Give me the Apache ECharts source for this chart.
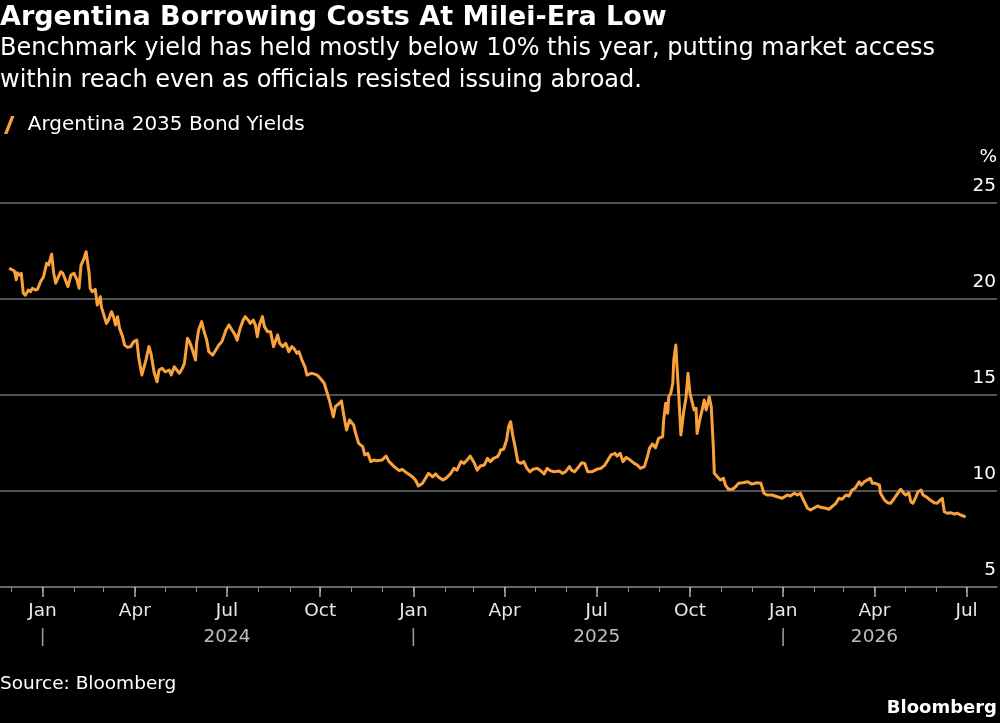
<!DOCTYPE html>
<html>
<head>
<meta charset="utf-8">
<script src="https://cdn.jsdelivr.net/npm/echarts@6/dist/echarts.min.js"></script>
<style>
html,body{margin:0;padding:0;background:#000;}
#chart{width:1000px;height:723px;}
</style>
</head>
<body>
<div id="chart"></div>
<script>
const titleText = 'Argentina Borrowing Costs At Milei-Era Low';
const subtitleText = 'Benchmark yield has held mostly below 10% this year, putting market access\nwithin reach even as officials resisted issuing abroad.';
const seriesName = 'Argentina 2035 Bond Yields';
const sourceText = 'Source: Bloomberg';
const brandText = 'Bloomberg';
const yTicks = [5, 10, 15, 20, 25];
const monthNames = ['Jan','Feb','Mar','Apr','May','Jun','Jul','Aug','Sep','Oct','Nov','Dec'];

const dates = [
'2023-11-29','2023-12-04','2023-12-05','2023-12-06','2023-12-07','2023-12-09','2023-12-11','2023-12-13','2023-12-15','2023-12-18',
'2023-12-20','2023-12-22','2023-12-25','2023-12-27','2023-12-30','2024-01-02','2024-01-05','2024-01-07','2024-01-10','2024-01-12',
'2024-01-14','2024-01-16','2024-01-19','2024-01-21','2024-01-23','2024-01-26','2024-01-29','2024-02-01','2024-02-04','2024-02-06',
'2024-02-08','2024-02-11','2024-02-13','2024-02-16','2024-02-17','2024-02-19','2024-02-22','2024-02-24','2024-02-27','2024-02-28',
'2024-03-02','2024-03-04','2024-03-06','2024-03-09','2024-03-11','2024-03-13','2024-03-15','2024-03-17','2024-03-20','2024-03-22',
'2024-03-25','2024-03-28','2024-03-31','2024-04-03','2024-04-05','2024-04-08','2024-04-12','2024-04-15','2024-04-17','2024-04-20',
'2024-04-23','2024-04-25','2024-04-28','2024-05-01','2024-05-05','2024-05-07','2024-05-10','2024-05-15','2024-05-18','2024-05-20',
'2024-05-23','2024-05-25','2024-05-28','2024-05-31','2024-06-01','2024-06-03','2024-06-06','2024-06-08','2024-06-11','2024-06-13',
'2024-06-17','2024-06-20','2024-06-23','2024-06-26','2024-06-30','2024-07-03','2024-07-06','2024-07-09','2024-07-11','2024-07-14',
'2024-07-17','2024-07-19','2024-07-22','2024-07-24','2024-07-27','2024-07-29','2024-07-31','2024-08-02','2024-08-05','2024-08-07',
'2024-08-10','2024-08-13','2024-08-16','2024-08-20','2024-08-22','2024-08-25','2024-08-28','2024-08-31','2024-09-03','2024-09-05',
'2024-09-08','2024-09-10','2024-09-13','2024-09-16','2024-09-18','2024-09-22','2024-09-25','2024-09-28','2024-10-01','2024-10-05',
'2024-10-07','2024-10-10','2024-10-12','2024-10-14','2024-10-16','2024-10-20','2024-10-22','2024-10-24','2024-10-27','2024-10-30',
'2024-11-03','2024-11-05','2024-11-08','2024-11-12','2024-11-14','2024-11-17','2024-11-20','2024-11-23','2024-11-26','2024-12-01',
'2024-12-05','2024-12-08','2024-12-13','2024-12-18','2024-12-21','2024-12-26','2024-12-31','2025-01-03','2025-01-06','2025-01-10',
'2025-01-13','2025-01-16','2025-01-20','2025-01-23','2025-01-26','2025-01-30','2025-02-02','2025-02-07','2025-02-10','2025-02-13',
'2025-02-17','2025-02-20','2025-02-23','2025-02-26','2025-03-02','2025-03-05','2025-03-08','2025-03-12','2025-03-15','2025-03-18',
'2025-03-21','2025-03-25','2025-03-27','2025-03-28','2025-03-31','2025-04-03','2025-04-05','2025-04-07','2025-04-09','2025-04-10',
'2025-04-12','2025-04-14','2025-04-17','2025-04-20','2025-04-23','2025-04-26','2025-04-29','2025-05-03','2025-05-07','2025-05-10',
'2025-05-13','2025-05-16','2025-05-20','2025-05-25','2025-05-28','2025-05-31','2025-06-04','2025-06-06','2025-06-09','2025-06-12',
'2025-06-16','2025-06-19','2025-06-22','2025-06-26','2025-07-01','2025-07-05','2025-07-09','2025-07-12','2025-07-15','2025-07-19',
'2025-07-21','2025-07-24','2025-07-27','2025-07-30','2025-08-03','2025-08-07','2025-08-10','2025-08-13','2025-08-17','2025-08-20',
'2025-08-22','2025-08-25','2025-08-28','2025-08-31','2025-09-04','2025-09-05','2025-09-07','2025-09-09','2025-09-10','2025-09-12',
'2025-09-14','2025-09-15','2025-09-17','2025-09-18','2025-09-20','2025-09-22','2025-09-25','2025-09-27','2025-09-29','2025-10-01',
'2025-10-03','2025-10-05','2025-10-07','2025-10-08','2025-10-11','2025-10-13','2025-10-15','2025-10-17','2025-10-20','2025-10-22',
'2025-10-24','2025-10-25','2025-10-28','2025-10-31','2025-11-03','2025-11-05','2025-11-08','2025-11-12','2025-11-15','2025-11-18',
'2025-11-22','2025-11-27','2025-12-01','2025-12-06','2025-12-10','2025-12-13','2025-12-16','2025-12-21','2025-12-26','2025-12-31',
'2026-01-05','2026-01-08','2026-01-12','2026-01-15','2026-01-18','2026-01-21','2026-01-25','2026-01-28','2026-01-31','2026-02-04',
'2026-02-07','2026-02-12','2026-02-15','2026-02-18','2026-02-22','2026-02-25','2026-02-28','2026-03-04','2026-03-07','2026-03-10',
'2026-03-13','2026-03-17','2026-03-19','2026-03-22','2026-03-25','2026-03-28','2026-03-30','2026-04-02','2026-04-06','2026-04-07',
'2026-04-11','2026-04-14','2026-04-17','2026-04-20','2026-04-24','2026-04-27','2026-04-30','2026-05-02','2026-05-05','2026-05-07',
'2026-05-09','2026-05-12','2026-05-14','2026-05-17','2026-05-19','2026-05-23','2026-05-26','2026-05-30','2026-06-02','2026-06-05',
'2026-06-07','2026-06-09','2026-06-12','2026-06-15','2026-06-19','2026-06-22','2026-06-25','2026-06-28','2026-06-30'
];

const yields = [
21.6,21.47,21.29,21.0,21.37,21.25,21.34,20.3,20.2,20.47,
20.38,20.56,20.47,20.5,20.9,21.16,21.86,21.77,22.34,21.34,
20.82,21.08,21.42,21.34,21.08,20.64,21.25,21.34,21.0,20.56,
21.77,22.12,22.46,21.34,20.56,20.38,20.5,19.69,20.12,19.6,
19.08,18.73,18.9,19.34,19.08,18.65,19.08,18.47,18.04,17.6,
17.48,17.52,17.78,17.86,16.91,16.04,16.82,17.52,17.17,16.21,
15.69,16.3,16.39,16.21,16.3,16.04,16.47,16.13,16.39,16.65,
17.95,17.78,17.34,16.82,17.69,18.39,18.82,18.39,17.86,17.26,
17.08,17.34,17.6,17.78,18.39,18.65,18.39,18.13,17.86,18.47,
18.9,19.08,18.9,18.73,18.9,18.65,18.04,18.65,19.08,18.56,
18.3,18.3,17.52,18.13,17.69,17.52,17.69,17.26,17.52,17.43,
17.17,17.26,16.82,16.47,16.04,16.13,16.1,16.04,15.87,15.61,
15.26,14.74,14.31,13.87,14.39,14.57,14.69,14.05,13.18,13.7,
13.44,13.0,12.48,12.31,11.88,11.96,11.53,11.61,11.58,11.61,
11.82,11.53,11.27,11.06,11.13,10.92,10.74,10.57,10.26,10.4,
10.66,10.92,10.74,10.89,10.71,10.57,10.66,10.92,11.18,11.09,
11.53,11.44,11.61,11.82,11.47,11.09,11.3,11.35,11.7,11.53,
11.7,11.79,11.96,12.14,12.17,12.66,13.35,13.61,12.92,12.83,
12.14,11.53,11.44,11.53,11.18,11.0,11.13,11.18,11.04,10.89,
11.18,11.06,11.0,11.04,10.92,11.0,11.27,11.09,11.0,11.18,
11.47,11.44,11.0,11.0,11.13,11.18,11.35,11.61,11.88,11.96,
11.82,11.96,11.53,11.75,11.61,11.44,11.35,11.18,11.27,11.79,
12.22,12.45,12.25,12.74,12.83,13.7,14.57,14.05,14.91,15.09,
15.61,16.82,17.6,16.65,14.91,12.92,14.22,14.83,16.13,15.09,
14.65,14.22,14.31,13.0,13.79,14.22,14.74,14.22,14.91,14.39,
12.31,10.92,10.74,10.57,10.66,10.31,10.09,10.09,10.22,10.4,
10.43,10.48,10.36,10.43,10.4,9.88,9.79,9.79,9.7,9.62,
9.79,9.74,9.88,9.79,9.88,9.53,9.1,9.01,9.1,9.22,
9.15,9.1,9.05,9.18,9.36,9.62,9.57,9.79,9.74,10.05,
10.14,10.48,10.31,10.48,10.57,10.66,10.4,10.4,10.31,9.88,
9.53,9.39,9.36,9.57,9.88,10.09,9.88,9.79,9.91,9.44,
9.36,9.7,9.96,10.05,9.79,9.67,9.53,9.39,9.36,9.53,
9.62,8.92,8.84,8.87,8.8,8.84,8.75,8.7,8.63
];

const axisStart = '2023-11-20';
const axisEnd = '2026-07-31';
const monthTickDates = [
'2023-12-01','2024-01-01','2024-02-01','2024-03-01','2024-04-01','2024-05-01','2024-06-01','2024-07-01','2024-08-01','2024-09-01','2024-10-01','2024-11-01','2024-12-01',
'2025-01-01','2025-02-01','2025-03-01','2025-04-01','2025-05-01','2025-06-01','2025-07-01','2025-08-01','2025-09-01','2025-10-01','2025-11-01','2025-12-01',
'2026-01-01','2026-02-01','2026-03-01','2026-04-01','2026-05-01','2026-06-01','2026-07-01'
];
const quarterTickDates = [
'2024-01-01','2024-04-01','2024-07-01','2024-10-01',
'2025-01-01','2025-04-01','2025-07-01','2025-10-01',
'2026-01-01','2026-04-01','2026-07-01'
];
const yearStartDates = ['2024-01-01','2025-01-01','2026-01-01'];
const yearLabelDates = ['2024-07-01','2025-07-01','2026-04-01'];

function ts(s){ const p = s.split('-').map(Number); return Date.UTC(p[0], p[1]-1, p[2]); }

const FONT = 'DejaVu Sans';
const data = dates.map((d, i) => [ts(d), yields[i]]);
const yearStartTs = yearStartDates.map(ts);
const yearLabelTs = yearLabelDates.map(ts);

const chart = echarts.init(document.getElementById('chart'), null, {renderer: 'canvas'});
chart.setOption({
  backgroundColor: '#000000',
  animation: false,
  textStyle: {fontFamily: FONT},
  title: [
    {
      text: titleText, subtext: subtitleText, left: 0, top: 2, padding: 0, itemGap: 0,
      textStyle: {color: '#ffffff', fontSize: 27, fontWeight: 'bold', fontFamily: FONT, lineHeight: 31},
      subtextStyle: {color: '#ffffff', fontSize: 24, fontFamily: FONT, lineHeight: 32}
    },
    {
      text: sourceText, left: 0, top: 675, padding: 0,
      textStyle: {color: '#ffffff', fontSize: 18.5, fontWeight: 'normal', fontFamily: FONT}
    },
    {
      text: brandText, right: 3, top: 699, padding: 0,
      textStyle: {color: '#ffffff', fontSize: 18, fontWeight: 'bold', fontFamily: FONT}
    }
  ],
  legend: {
    left: 4, top: 115, padding: 0,
    itemWidth: 11, itemHeight: 18,
    icon: 'path://M0,18 L7,0 L10.5,0 L3.5,18 Z',
    textStyle: {color: '#ffffff', fontSize: 20, fontFamily: FONT, padding: [0,0,0,8]},
    data: [seriesName]
  },
  grid: {left: 0, right: 3, top: 203, bottom: 136, containLabel: false},
  xAxis: [
    {
      type: 'value', min: ts(axisStart), max: ts(axisEnd),
      axisLine: {show: true, lineStyle: {color: '#707070', width: 1.5}},
      axisTick: {show: true, length: 5, lineStyle: {color: '#8a8a8a', width: 1}, customValues: monthTickDates.map(ts)},
      axisLabel: {show: false},
      splitLine: {show: false}
    },
    {
      type: 'value', min: ts(axisStart), max: ts(axisEnd), position: 'bottom',
      axisLine: {show: false},
      axisTick: {show: true, length: 10, lineStyle: {color: '#b0b0b0', width: 1.5}, customValues: quarterTickDates.map(ts)},
      axisLabel: {
        show: true, margin: 11, customValues: quarterTickDates.map(ts),
        formatter: function (v) {
          const d = new Date(v);
          const m = d.getUTCMonth();
          let second = '{y| }';
          if (yearStartTs.indexOf(v) >= 0) second = '{p||}';
          else if (yearLabelTs.indexOf(v) >= 0) second = '{y|' + d.getUTCFullYear() + '}';
          return '{m|' + monthNames[m] + '}\n' + second;
        },
        rich: {
          m: {color: '#e8e8e8', fontSize: 18.5, fontFamily: FONT, lineHeight: 26},
          y: {color: '#bdbdbd', fontSize: 18.5, fontFamily: FONT, lineHeight: 26},
          p: {color: '#9a9a9a', fontSize: 18.5, fontFamily: FONT, lineHeight: 26}
        }
      },
      splitLine: {show: false}
    }
  ],
  yAxis: {
    type: 'value', position: 'right', min: 5, max: 25, interval: 5,
    name: '%', nameLocation: 'end', nameGap: 36,
    nameTextStyle: {color: '#ffffff', fontSize: 18.5, fontFamily: FONT, align: 'right', verticalAlign: 'bottom'},
    axisLine: {show: false}, axisTick: {show: false},
    axisLabel: {
      inside: true, margin: 1, color: '#ffffff', fontSize: 18.5, fontFamily: FONT,
      verticalAlign: 'bottom', padding: [0, 0, 7, 0]
    },
    splitLine: {show: true, lineStyle: {color: '#6e6e6e', width: 1.5}}
  },
  series: [{
    name: seriesName, type: 'line', xAxisIndex: 0, data: data,
    showSymbol: false, symbol: 'none',
    lineStyle: {color: '#f9a13a', width: 3, join: 'round'},
    itemStyle: {color: '#f9a13a'}
  }]
});
</script>
</body>
</html>
